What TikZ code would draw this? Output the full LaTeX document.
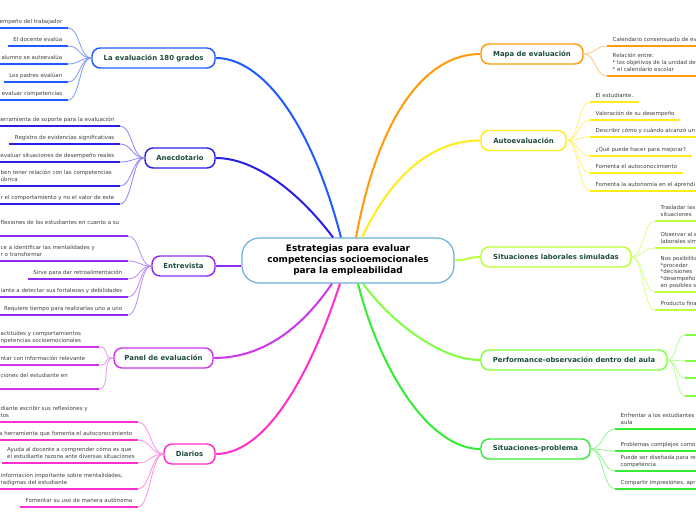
\documentclass[tikz,border=0pt]{standalone}
\usepackage{fontspec}
\setmainfont{DejaVu Sans}
\usetikzlibrary{calc}
\definecolor{c180}{HTML}{1F5BFF}\definecolor{c180l}{HTML}{7B98FF}
\definecolor{cAne}{HTML}{2A1FE6}\definecolor{cAnel}{HTML}{8C84F5}
\definecolor{cEnt}{HTML}{8E2DF0}\definecolor{cEntl}{HTML}{BB8CF7}
\definecolor{cPan}{HTML}{CD35EE}\definecolor{cPanl}{HTML}{E49AF5}
\definecolor{cDia}{HTML}{FF2ECF}\definecolor{cDial}{HTML}{FF8FE3}
\definecolor{cMap}{HTML}{FF9A0A}\definecolor{cMapl}{HTML}{FFC57A}
\definecolor{cAut}{HTML}{FFEC1A}\definecolor{cAutl}{HTML}{FFF27A}
\definecolor{cLab}{HTML}{BDFF3A}\definecolor{cLabl}{HTML}{D8FF8A}
\definecolor{cPer}{HTML}{82FF42}\definecolor{cPerl}{HTML}{B5FF8F}
\definecolor{cPro}{HTML}{36EB36}\definecolor{cProl}{HTML}{8FF58F}
\definecolor{cCen}{HTML}{6BAFDC}
\definecolor{tbr}{HTML}{1D4C3B}
\definecolor{tch}{HTML}{3F3F3F}
\newcommand\lchR[6]{%
  \node[ch,anchor=south east] (#1) at (#4,#5) {#6};
  \draw[ul=#3] (#1.south west) -- (#1.south east);
  \draw[cn=#3l] (#2.west) .. controls +(-12,0) and +(12,0) .. (#1.south east);}
\newcommand\lchL[7]{%
  \node[ch,anchor=south west] (#1) at (#4,#6) {#7};
  \coordinate (#1e) at (#5,#6);
  \draw[ul=#3] (#1.south west) -- (#1e);
  \draw[cn=#3l] (#2.west) .. controls +(-12,0) and +(12,0) .. (#1e);}
\newcommand\rchN[6]{%
  \node[ch,anchor=south west] (#1) at (#4,#5) {#6};
  \draw[ul=#3] (#1.south west) -- (#1.south east);
  \draw[cn=#3l] (#2.east) .. controls +(12,0) and +(-12,0) .. (#1.south west);}
\newcommand\rchC[6]{%
  \node[ch,anchor=south west] (#1) at (#4,#5) {#6};
  \coordinate (#1e) at (700,#5);
  \draw[ul=#3] (#1.south west) -- (#1e);
  \draw[cn=#3l] (#2.east) .. controls +(12,0) and +(-12,0) .. (#1.south west);}
\begin{document}
\begin{tikzpicture}[x=0.75pt,y=-0.75pt,
  br/.style={draw=#1, fill=white, line width=1.1pt, rounded corners=6pt,
    minimum height=15pt, inner xsep=2pt, text=tbr, font=\fontsize{5.2}{6.5}\selectfont\bfseries},
  cen/.style={draw=cCen, fill=white, line width=0.9pt, rounded corners=13pt,
    minimum width=159pt, minimum height=33.75pt, align=center, text=black,
    font=\fontsize{6.7}{8.25}\selectfont\bfseries},
  ch/.style={font=\fontsize{4.1}{5}\selectfont, text=tch, inner xsep=4.1pt,
    inner ysep=2.2pt, text depth=1.2pt, align=left},
  ul/.style={draw=#1, line width=1.4pt},
  cn/.style={draw=#1, line width=0.6pt},
  mc/.style={draw=#1, line width=1.5pt}]
\fill[white] (0,0) rectangle (696,520);
\useasboundingbox (0,0) rectangle (696,520);

% center
\node[cen] (C) at (348,260.5) {Estrategias para evaluar\\competencias socioemocionales\\para la empleabilidad};

% branches
\node[br=c180, minimum width=92.25pt] (B180) at (153.5,58) {La evaluación 180 grados};
\node[br=cAne, minimum width=52.5pt] (Ane) at (180,158) {Anecdotario};
\node[br=cEnt, minimum width=47.25pt] (Ent) at (183.5,266) {Entrevista};
\node[br=cPan, minimum width=74.25pt] (Pan) at (163.5,358) {Panel de evaluación};
\node[br=cDia, minimum width=38.25pt] (Dia) at (189.5,454) {Diarios};
\node[br=cMap, minimum width=76.5pt] (Map) at (532,54) {Mapa de evaluación};
\node[br=cAut, minimum width=63.75pt] (Aut) at (523.5,140.5) {Autoevaluación};
\node[br=cLab, minimum width=112.5pt] (Lab) at (556,257) {Situaciones laborales simuladas};
\node[br=cPer, minimum width=139.5pt] (Per) at (574,360) {Performance-observación dentro del aula};
\node[br=cPro, minimum width=81.75pt] (Pro) at (535.5,449) {Situaciones-problema};

% center to branches
\draw[mc=c180] ($(C.north)+(-7,0)$) .. controls +(-31,-119) and +(45,0) .. (B180.east);
\draw[mc=cAne] ($(C.north)+(-15,0)$) .. controls +(-33,-44) and +(40,0) .. (Ane.east);
\draw[mc=cMap] ($(C.north)+(8,0)$) .. controls +(24,-129) and +(-51,0) .. (Map.west);
\draw[mc=cAut] ($(C.north)+(14,0)$) .. controls +(28,-59) and +(-51,0) .. (Aut.west);
\draw[mc=cEnt] (C.west |- Ent.east) -- (Ent.east);
\draw[mc=cLab] (C.east) .. controls +(12,0) and +(-12,0) .. (Lab.west);
\draw[mc=cPan] ($(C.south)+(-16,0)$) .. controls +(-32,47) and +(47,0) .. (Pan.east);
\draw[mc=cDia] ($(C.south)+(-8,0)$) .. controls +(-25,77) and +(55,0) .. (Dia.east);
\draw[mc=cPro] ($(C.south)+(10,0)$) .. controls +(22,87) and +(-51,0) .. (Pro.west);
\draw[mc=cPer] ($(C.south)+(15,0)$) .. controls +(27,37) and +(-41,0) .. (Per.west);

% La evaluacion 180 grados
\lchR{a1}{B180}{c180}{68}{28}{empeño del trabajador}
\lchR{a2}{B180}{c180}{68}{46}{El docente evalúa}
\lchR{a3}{B180}{c180}{68}{64}{alumno se autoevalúa}
\lchR{a4}{B180}{c180}{68}{82}{Los padres evalúan}
\lchR{a5}{B180}{c180}{68}{100}{evaluar competencias}

% Anecdotario
\lchR{b1}{Ane}{cAne}{120}{126}{herramienta de soporte para la evaluación}
\lchR{b2}{Ane}{cAne}{120}{144}{Registro de evidencias significativas}
\lchR{b3}{Ane}{cAne}{120}{162}{evaluar situaciones de desempeño reales}
\lchL{b4}{Ane}{cAne}{-5}{120}{186}{ben tener relación con las competencias\\úbrica}
\lchR{b5}{Ane}{cAne}{120}{204}{r el comportamiento y no el valor de este}

% Entrevista
\lchL{g1}{Ent}{cEnt}{-5}{128}{236}{flexiones de los estudiantes en cuanto a su\\\strut}
\lchL{g2}{Ent}{cEnt}{-5}{128}{261}{ce a identificar las mentalidades y\\r o transformar}
\lchR{g3}{Ent}{cEnt}{128}{279}{Sirve para dar retroalimentación}
\lchR{g4}{Ent}{cEnt}{128}{297}{iante a detectar sus fortalezas y debilidades}
\lchR{g5}{Ent}{cEnt}{128}{315}{Requiere tiempo para realizarlas uno a uno}

% Panel de evaluacion
\lchL{h1}{Pan}{cPan}{-5}{99}{347}{actitudes y comportamientos\\npetencias socioemocionales}
\lchL{h2}{Pan}{cPan}{-5}{99}{365}{ntar con información relevante}
\lchL{h3}{Pan}{cPan}{-5}{99}{389}{ciones del estudiante en\\\strut}

% Diarios
\lchL{i1}{Dia}{cDia}{-5}{138}{422}{diante escribir sus reflexiones y\\tos}
\lchR{i2}{Dia}{cDia}{138}{440}{ra herramienta que fomenta el autoconocimiento}
\lchL{i3}{Dia}{cDia}{1.5}{138}{463}{Ayuda al docente a comprender cómo es que\\el estudiante razona ante diversas situaciones}
\lchL{i4}{Dia}{cDia}{-5}{138}{489}{información importante sobre mentalidades,\\radigmas del estudiante}
\lchR{i5}{Dia}{cDia}{138}{507}{Fomentar su uso de manera autónoma}

% Mapa de evaluacion
\rchC{c1}{Map}{cMap}{607}{46}{Calendario consensuado de ev}
\rchC{c2}{Map}{cMap}{607}{76}{Relación entre:\\* los objetivos de la unidad de\\* el calendario escolar}

% Autoevaluacion
\rchN{d1}{Aut}{cAut}{590}{102}{El estudiante.}
\rchN{d2}{Aut}{cAut}{590}{120}{Valoración de su desempeño}
\rchC{d3}{Aut}{cAut}{590}{137}{Describir cómo y cuándo alcanzó un}
\rchN{d4}{Aut}{cAut}{590}{156}{¿Qué puede hacer para mejorar?}
\rchN{d5}{Aut}{cAut}{590}{173}{Fomenta el autoconocimiento}
\rchC{d6}{Aut}{cAut}{590}{191}{Fomenta la autonomía en el aprendi}

% Situaciones laborales simuladas
\rchC{e1}{Lab}{cLab}{655}{221}{Trasladar las\\situaciones}
\rchC{e2}{Lab}{cLab}{655}{248}{Observar al e\\laborales sim}
\rchC{e3}{Lab}{cLab}{655}{292}{Nos posibilita\\*proceder\\*decisiones\\*desempeño\\en posibles s}
\rchC{e4}{Lab}{cLab}{655}{310}{Producto fina}

% Performance
\foreach \k/\yy in {1/335,2/361,3/378,4/396}{
  \coordinate (p\k) at (685,\yy);
  \draw[ul=cPer] (p\k) -- ++(20,0);
  \draw[cn=cPerl] (Per.east) .. controls +(9,0) and +(-9,0) .. (p\k);
}

% Situaciones-problema
\rchC{f1}{Pro}{cPro}{615}{429}{Enfrentar a los estudiantes\\aula}
\rchC{f2}{Pro}{cPro}{615}{451}{Problemas complejos como}
\rchC{f3}{Pro}{cPro}{615}{471}{Puede ser diseñada para re\\competencia}
\rchC{f4}{Pro}{cPro}{615}{489}{Compartir impresiones, apr}
\end{tikzpicture}
\end{document}
